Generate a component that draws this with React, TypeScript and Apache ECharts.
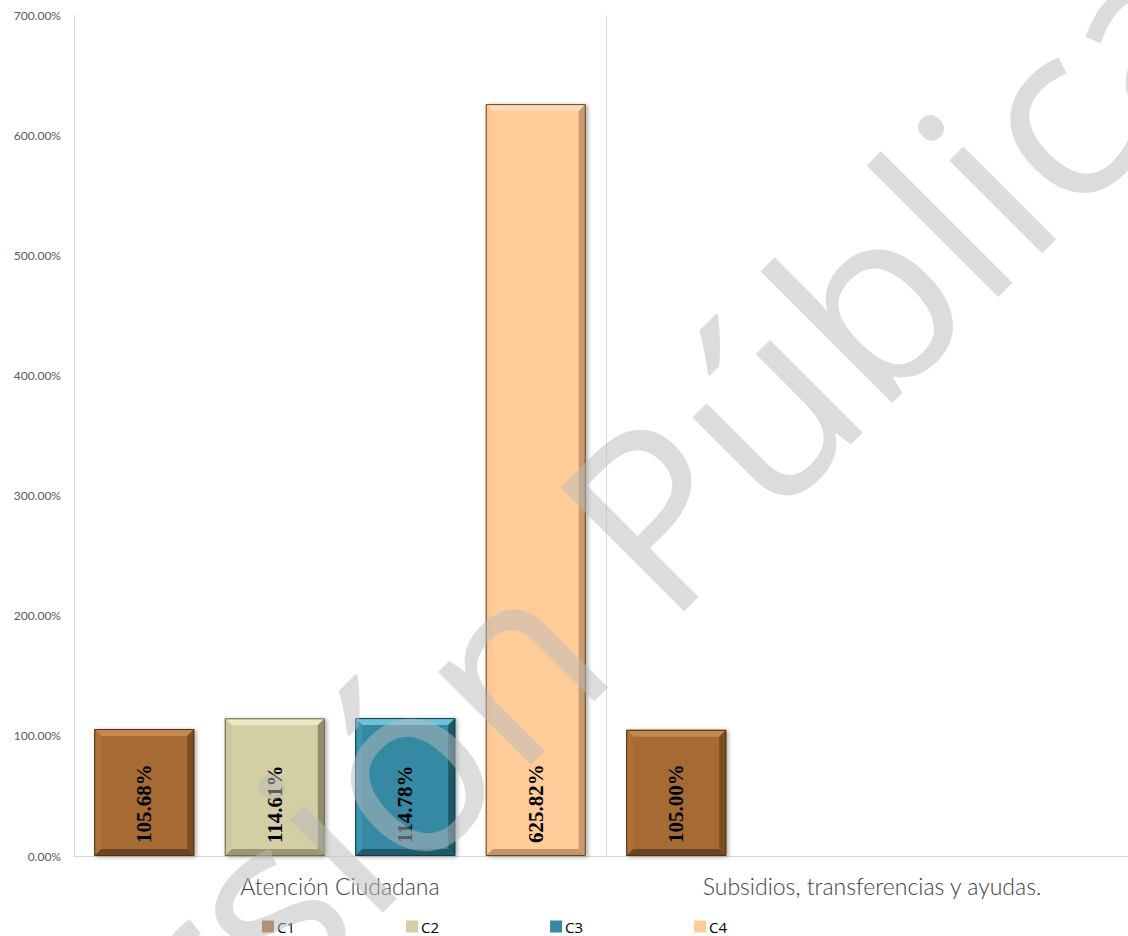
import React, { useEffect, useRef } from "react";
import * as echarts from "echarts";

const CATEGORIES = ["Atención Ciudadana", "Subsidios, transferencias y ayudas."];
const SERIES_NAMES = ["C1", "C2", "C3", "C4"];
const C1 = [105.68, 105.0];
const C2 = [114.61, null];
const C3 = [114.78, null];
const C4 = [625.82, null];
const SERIES_VALUES = [C1, C2, C3, C4];
const Y_TICKS = [0, 100, 200, 300, 400, 500, 600, 700];

const PALETTE = [
  { face: "#A66B34", top: "#C4894D", left: "#AE7239", right: "#7B4D23", bottom: "#6C4420", edge: "#4E3218" },
  { face: "#D3CEA4", top: "#ECE8C6", left: "#CDC89D", right: "#928E6B", bottom: "#9B9771", edge: "#6E6B50" },
  { face: "#3589A3", top: "#6CC2DB", left: "#3B95AF", right: "#1E5768", bottom: "#205B6C", edge: "#143A46" },
  { face: "#FFCC99", top: "#FFDDB9", left: "#FBC792", right: "#C99A6C", bottom: "#C59569", edge: "#5E4531" },
];

function makeRenderItem(sIdx: number) {
  const c = PALETTE[sIdx];
  return (params: any, api: any) => {
    const cat = api.value(0);
    const val = api.value(1);
    const base = api.coord([cat, 0]);
    const topP = api.coord([cat, val]);
    const W = api.size([1, 0])[0];
    const bw = W * 0.188;
    const gap = W * 0.0573;
    const margin = (W - 4 * bw - 3 * gap) / 2;
    const x0 = base[0] - W / 2 + margin + sIdx * (bw + gap);
    const x1 = x0 + bw;
    const y0 = topP[1];
    const y1 = base[1];
    const b = Math.min(7, (y1 - y0) / 2);
    const label = val.toFixed(2) + "%";
    return {
      type: "group",
      children: [
        {
          type: "rect",
          shape: { x: x0, y: y0, width: bw, height: y1 - y0 },
          style: { fill: c.face, shadowBlur: 4, shadowOffsetX: 2, shadowOffsetY: 1, shadowColor: "rgba(0,0,0,0.35)" },
        },
        { type: "polygon", shape: { points: [[x0, y0], [x1, y0], [x1 - b, y0 + b], [x0 + b, y0 + b]] }, style: { fill: c.top } },
        { type: "polygon", shape: { points: [[x0, y0], [x0 + b, y0 + b], [x0 + b, y1 - b], [x0, y1]] }, style: { fill: c.left } },
        { type: "polygon", shape: { points: [[x1, y0], [x1, y1], [x1 - b, y1 - b], [x1 - b, y0 + b]] }, style: { fill: c.right } },
        { type: "polygon", shape: { points: [[x0, y1], [x0 + b, y1 - b], [x1 - b, y1 - b], [x1, y1]] }, style: { fill: c.bottom } },
        {
          type: "rect",
          shape: { x: x0 + 0.5, y: y0 + 0.5, width: bw - 1, height: y1 - y0 - 1 },
          style: { fill: "none", stroke: c.edge, lineWidth: 1 },
        },
        {
          type: "text",
          x: (x0 + x1) / 2,
          y: y1 - 13,
          rotation: Math.PI / 2,
          style: {
            text: label,
            fill: "#000000",
            font: 'bold 21px "Liberation Serif", "Times New Roman", serif',
            align: "left",
            verticalAlign: "middle",
          },
        },
      ],
    };
  };
}

export default function App() {
  const ref = useRef<HTMLDivElement>(null);
  useEffect(() => {
    document.body.style.margin = "0";
    const chart = echarts.init(ref.current!, null, { renderer: "svg" });
    const series = SERIES_NAMES.map((name, sIdx) => ({
      name,
      type: "custom",
      renderItem: makeRenderItem(sIdx),
      encode: { x: 0, y: 1 },
      itemStyle: { color: PALETTE[sIdx].face },
      data: SERIES_VALUES[sIdx]
        .map((v, i) => (v == null ? null : [i, v]))
        .filter((d) => d != null),
      z: 2,
    }));
    const theta = (45 * Math.PI) / 180;
    chart.setOption({
      animation: false,
      backgroundColor: "#ffffff",
      color: PALETTE.map((p) => p.face),
      grid: { left: 74, top: 15, width: 1064, height: 841, containLabel: false, outerBoundsMode: "none" },
      xAxis: {
        type: "category",
        data: CATEGORIES,
        boundaryGap: true,
        axisLine: { show: true, lineStyle: { color: "#d9d9d9", width: 1 } },
        axisTick: { show: false },
        splitLine: { show: true, lineStyle: { color: "#d9d9d9", width: 1 } },
        axisLabel: { color: "#404040", fontSize: 23, fontFamily: "Lato", fontWeight: 300, margin: 18 },
      },
      yAxis: {
        type: "value",
        min: Y_TICKS[0],
        max: Y_TICKS[Y_TICKS.length - 1],
        interval: 100,
        axisLine: { show: true, lineStyle: { color: "#d9d9d9", width: 1 } },
        axisTick: { show: false },
        splitLine: { show: false },
        axisLabel: {
          color: "#595959",
          fontSize: 12,
          fontFamily: "Lato",
          margin: 13,
          formatter: (v: number) => v.toFixed(2) + "%",
        },
      },
      legend: {
        data: SERIES_NAMES,
        left: 257,
        top: 914,
        itemWidth: 12,
        itemHeight: 12,
        itemGap: 111,
        icon: "rect",
        textStyle: { color: "#000000", fontSize: 15, fontFamily: "Open Sans", width: 20, padding: [0, 0, 0, -2] },
      },
      graphic: [
        {
          type: "text",
          silent: true,
          z: 100,
          x: -53,
          y: 1214,
          rotation: theta,
          style: {
            text: "Versión Pública",
            font: '400 245px "Open Sans"',
            fill: "rgba(186,186,186,0.5)",
            align: "left",
            verticalAlign: "middle",
          },
        },
      ],
      series,
    });
    return () => chart.dispose();
  }, []);
  return <div ref={ref} style={{ width: 1128, height: 936 }} />;
}
